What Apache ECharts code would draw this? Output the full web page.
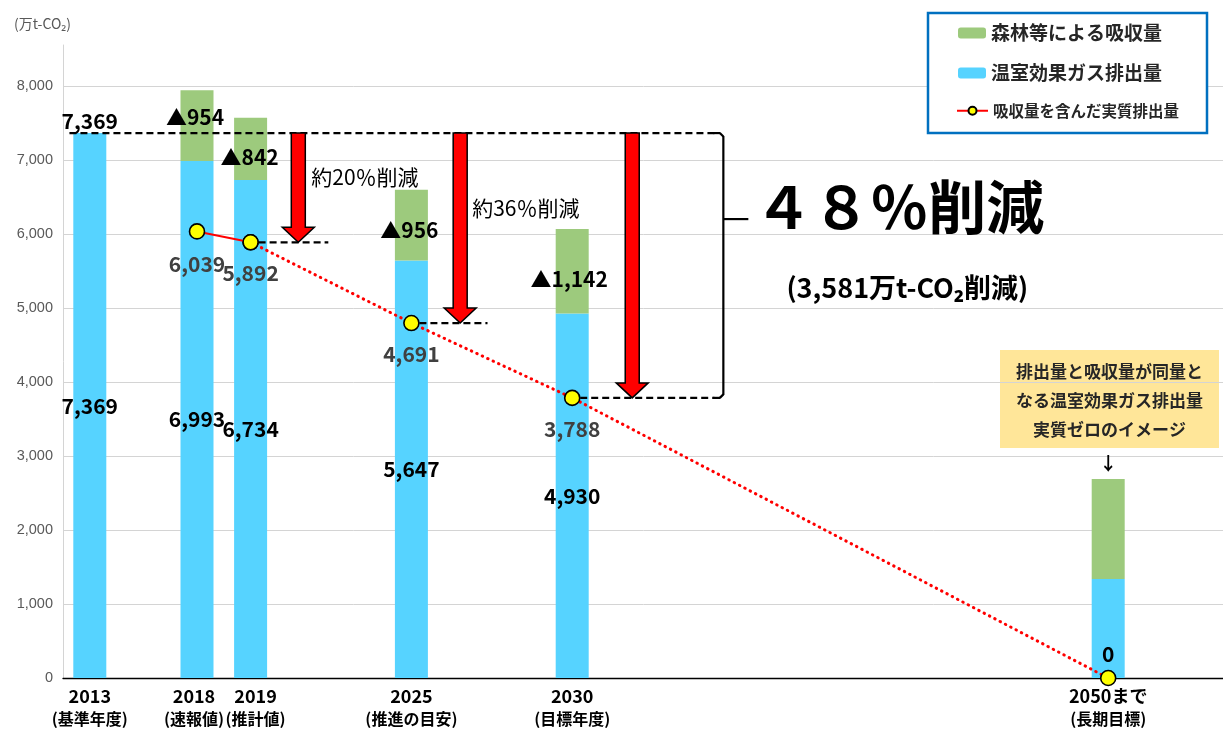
<!DOCTYPE html>
<html>
<head>
<meta charset="utf-8">
<script src="https://cdn.jsdelivr.net/npm/echarts@6/dist/echarts.min.js"></script>
<style>
html,body{margin:0;padding:0;background:#fff;}
#chart{width:1223px;height:731px;}
</style>
</head>
<body>
<div id="chart"></div>
<script>
// ---- data ----
const categories = ['2013','','2018','2019','','','2025','','','2030','','','','','','','','','','2050まで','',''];
const categoryNotes = ['(基準年度)','','(速報値)','(推計値)','','','(推進の目安)','','','(目標年度)','','','','','','','','','','(長期目標)','',''];
const emissions  = [7369,null,6993,6734,null,null,5647,null,null,4930,null,null,null,null,null,null,null,null,null,1340,null,null];
const absorption = [null,null,954,842,null,null,956,null,null,1142,null,null,null,null,null,null,null,null,null,1350,null,null];
const netActual  = [null,null,6039,5892,null,null,null,null,null,null,null,null,null,null,null,null,null,null,null,null,null,null];
const netPath    = [null,null,null,5892,null,null,4800,null,null,3788,null,null,null,null,null,null,null,null,null,0,null,null];
const netLabels  = ['','','6,039','5,892','','','4,691','','','3,788','','','','','','','','','','0','',''];
const yTickLabels = ['0','1,000','2,000','3,000','4,000','5,000','6,000','7,000','8,000'];
const seriesNames = ['森林等による吸収量','温室効果ガス排出量','吸収量を含んだ実質排出量'];
const reductionTexts = ['約20％削減','約36％削減','４８％削減','(3,581万t-CO₂削減)'];
const noteLines = ['排出量と吸収量が同量と','なる温室効果ガス排出量','実質ゼロのイメージ'];
const longTermIndex = 19;

// ---- helpers ----
const FONT = '"Noto Sans CJK JP", "Noto Sans", sans-serif';
const fmt = v => String(v).replace(/\B(?=(\d{3})+(?!\d))/g, ',');
const absOffsets = {2:[-2,-9],3:[-1,8],6:[-2,5],9:[-3,8]};
const BLUE = '#56D3FF', GREEN = '#9DCA7D';

const absData = absorption.map((v,i)=> v==null ? null : {
  value:v,
  label:{show: i!==longTermIndex, offset: absOffsets[i]||[0,0]}
});
const emiData = emissions.map((v,i)=> v==null ? null : {
  value:v, label:{show: i!==longTermIndex}
});
const solidData = netActual.map((v,i)=> v==null ? null : {
  value:v, label:{show:true, formatter: netLabels[i], distance: i===2?14:12}
});
const pathData = netPath.map((v,i)=> {
  if (v==null) return null;
  if (i===longTermIndex) return {value:v, label:{show:true, position:'top', distance:5, color:'#000', formatter: netLabels[i]}};
  if (netActual[i]!=null) return {value:v, label:{show:false}};
  return {value:v, label:{show:true, formatter: netLabels[i], distance:12}};
});

const chart = echarts.init(document.getElementById('chart'), null, {renderer:'canvas'});
const markerStyle = {color:'#FFFF00', borderColor:'#000', borderWidth:1.6};

const option = {
  animation:false,
  backgroundColor:'#fff',
  textStyle:{fontFamily:FONT},
  title:{text:'(万t-CO₂)', left:9, top:12, textStyle:{fontFamily:FONT, fontSize:14, fontWeight:'normal', color:'#595959'}},
  grid:{left:63, top:45, bottom:53, width:1179.2, containLabel:false, outerBoundsMode:'none'},
  legend:[
    {data:[seriesNames[0]], left:958, top:23.5, padding:0, itemWidth:28, itemHeight:11, itemGap:5,
     textStyle:{fontFamily:FONT, fontSize:19, fontWeight:'bold', color:'#262626'}},
    {data:[seriesNames[1]], left:958, top:63.5, padding:0, itemWidth:28, itemHeight:11,
     textStyle:{fontFamily:FONT, fontSize:19, fontWeight:'bold', color:'#262626'}},
    {data:[seriesNames[2]], left:956, top:103, padding:0, itemWidth:31, itemHeight:10,
     textStyle:{fontFamily:FONT, fontSize:15.5, fontWeight:'bold', color:'#262626'}}
  ],
  xAxis:{
    type:'category', data:categories, boundaryGap:true,
    axisLine:{lineStyle:{color:'#000', width:1.3}},
    axisTick:{show:false},
    splitLine:{show:false},
    axisLabel:{
      interval:0, margin:8,
      formatter:(value, index)=>{
        if(!value) return '';
        const note = categoryNotes[index];
        if(value==='2018') return '{y|'+value+'}{g6|}\n{n|'+note+'}{g6|}';
        if(value==='2019') return '{g10|}{y|'+value+'}\n{g10|}{n|'+note+'}';
        return '{y|'+value+'}\n{n|'+note+'}';
      },
      rich:{
        y:{fontFamily:FONT, fontSize:18, fontWeight:'bold', color:'#000', lineHeight:20},
        n:{fontFamily:FONT, fontSize:16, fontWeight:'bold', color:'#000', lineHeight:26},
        g6:{width:6}, g10:{width:10}
      }
    }
  },
  yAxis:{
    type:'value', min:0, max:8560, interval:1000,
    axisLine:{show:true, lineStyle:{color:'#D4D4D4', width:1}},
    axisTick:{show:false},
    splitLine:{show:true, showMaxLine:false, lineStyle:{color:'#D4D4D4', width:1}},
    axisLabel:{showMaxLabel:false, margin:10, color:'#595959', fontSize:14.5, fontFamily:'"Liberation Sans", sans-serif',
      formatter:(v)=> yTickLabels[Math.round(v/1000)] || ''}
  },
  series:[
    {
      name:seriesNames[1], type:'bar', stack:'total', barWidth:33, data:emiData,
      itemStyle:{color:BLUE},
      label:{show:true, position:'inside', formatter:p=>fmt(p.value), color:'#000', fontFamily:FONT, fontSize:21, fontWeight:'bold'},
      markPoint:{
        symbol:'circle', symbolSize:0.1, silent:true,
        data:[{coord:[0, emissions[0]], value:emissions[0]}],
        itemStyle:{color:'rgba(0,0,0,0)'},
        label:{show:true, position:'top', distance:2, formatter:p=>fmt(p.value), color:'#000', fontFamily:FONT, fontSize:21, fontWeight:'bold'}
      }
    },
    {
      name:seriesNames[0], type:'bar', stack:'total', barWidth:33, data:absData,
      itemStyle:{color:GREEN},
      label:{show:true, position:'inside', formatter:p=>'▲'+fmt(p.value), color:'#000', fontFamily:FONT, fontSize:21, fontWeight:'bold'}
    },
    {
      name:seriesNames[2], type:'line', data:solidData, z:5,
      symbol:'circle', symbolSize:15, itemStyle:markerStyle,
      lineStyle:{color:'#FF0000', width:2},
      label:{show:true, position:'bottom', color:'#404040', fontFamily:FONT, fontSize:21, fontWeight:'bold'}
    },
    {
      name:'実質排出量の見通し', type:'line', data:pathData, z:4, connectNulls:true,
      symbol:'circle', symbolSize:15, itemStyle:markerStyle,
      lineStyle:{color:'#FF0000', width:3, type:[0.5,5.5], cap:'round'},
      label:{show:true, position:'bottom', color:'#404040', fontFamily:FONT, fontSize:21, fontWeight:'bold'}
    }
  ]
};
chart.setOption(option);

// ---- annotations positioned from data through the axes ----
const P = (i, v) => chart.convertToPixel({gridIndex:0}, [i, v]);
const x0 = P(0,0)[0], slot = P(1,0)[0] - x0;
const X = f => x0 + f*slot;
const Y = v => P(0, v)[1];

const yBase = Y(emissions[0]);
const bx = X(11.82);
const tickY = yBase + 86;
const yBot = Y(netPath[9]);
const dash = {stroke:'#000', lineWidth:2.2, lineDash:[7,4]};
const g = [];

// legend frame
g.push({type:'rect', z:3, shape:{x:928, y:13, width:279, height:120}, style:{fill:'#fff', stroke:'#0070C0', lineWidth:2.5}});
// note box
g.push({type:'rect', z:-1, shape:{x:1000, y:350, width:219, height:98}, style:{fill:'#FFE699'}});
noteLines.forEach((t,k)=> g.push({type:'text', z:6, style:{text:t, x:1109.5, y:372+k*29, align:'center', verticalAlign:'middle', font:'bold 17px '+FONT, fill:'#262626'}}));
g.push({type:'text', z:6, style:{text:'↓', x:X(longTermIndex), y:463, align:'center', verticalAlign:'middle', font:'bold 18px '+FONT, fill:'#000'}});

// base dashed line and bracket
g.push({type:'line', z:50, shape:{x1:X(-0.38), y1:yBase, x2:bx-9, y2:yBase}, style:dash});
g.push({type:'line', z:50, shape:{x1:bx-10, y1:yBase, x2:bx-3, y2:yBase}, style:{stroke:'#000', lineWidth:2.2}});
g.push({type:'line', z:50, shape:{x1:bx, y1:yBase+3, x2:bx, y2:yBot-3}, style:{stroke:'#000', lineWidth:2.2}});
g.push({type:'line', z:50, shape:{x1:bx, y1:tickY, x2:bx+25, y2:tickY}, style:{stroke:'#000', lineWidth:2.2}});
g.push({type:'line', z:50, shape:{x1:bx-10, y1:yBot, x2:bx-3, y2:yBot}, style:{stroke:'#000', lineWidth:2.2}});
g.push({type:'line', z:50, shape:{x1:bx-3.5, y1:yBase, x2:bx, y2:yBase+3.5}, style:{stroke:'#000', lineWidth:2.2}});
g.push({type:'line', z:50, shape:{x1:bx-3.5, y1:yBot, x2:bx, y2:yBot-3.5}, style:{stroke:'#000', lineWidth:2.2}});

// short dashed level lines
[[3, 4.45], [6, 7.42]].forEach(([i, fEnd])=> g.push({type:'line', z:50, shape:{x1:X(i)+8, y1:Y(netPath[i]), x2:X(fEnd), y2:Y(netPath[i])}, style:dash}));
g.push({type:'line', z:50, shape:{x1:X(9)+8, y1:yBot, x2:bx-9, y2:yBot}, style:dash});

// red arrows
[[3.89, netPath[3]], [6.91, netPath[6]], [10.12, netPath[9]]].forEach(([f, v])=>{
  const cx = X(f), y1 = yBase, y2 = Y(v), yh = y2 - 15;
  g.push({type:'polygon', z:60, shape:{points:[[cx-7,y1],[cx+7,y1],[cx+7,yh],[cx+16,yh],[cx,y2],[cx-16,yh],[cx-7,yh]]},
    style:{fill:'#FF0000', stroke:'#000', lineWidth:1.5}});
});

// reduction texts
g.push({type:'text', z:60, style:{text:reductionTexts[0], x:X(3.89)+13, y:yBase+44, align:'left', verticalAlign:'middle', font:'21px '+FONT, fill:'#000'}});
g.push({type:'text', z:60, style:{text:reductionTexts[1], x:X(6.91)+12, y:yBase+75, align:'left', verticalAlign:'middle', font:'21px '+FONT, fill:'#000'}});
g.push({type:'text', z:60, style:{text:reductionTexts[2], x:bx+31, y:tickY-12, align:'left', verticalAlign:'middle', font:'bold 58px '+FONT, fill:'#000'}});
g.push({type:'text', z:60, style:{text:reductionTexts[3], x:bx+184, y:tickY+69, align:'center', verticalAlign:'middle', font:'bold 27px '+FONT, fill:'#000'}});

chart.setOption({graphic:{elements:g}});
</script>
</body>
</html>
